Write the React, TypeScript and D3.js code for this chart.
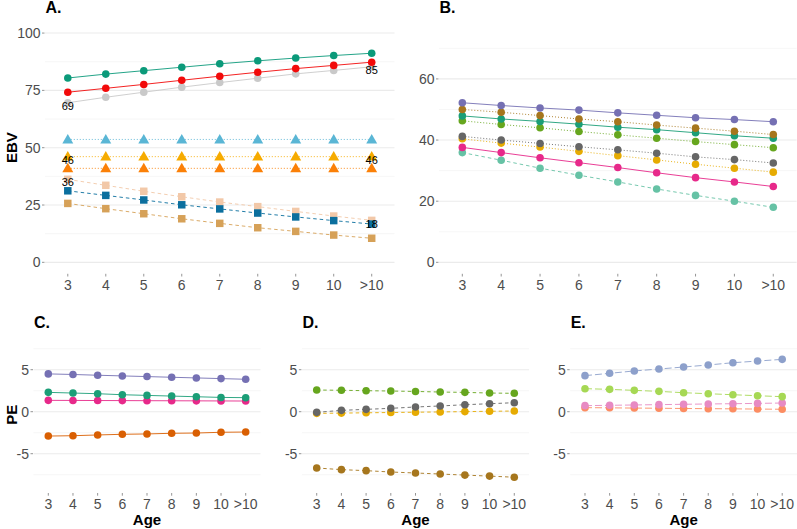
import React from "react";
import * as d3 from "d3";

// ---------- data ----------
const ages = ["3", "4", "5", "6", "7", "8", "9", "10", ">10"];

// Panel A (EBV)
const aTeal = [80.4, 82.1, 83.6, 85.1, 86.6, 87.9, 89.1, 90.2, 91.2];
const aRed = [74.2, 75.9, 77.6, 79.4, 81.2, 82.9, 84.5, 85.9, 87.3];
const aGrey = [69.6, 72.0, 74.2, 76.4, 78.4, 80.3, 82.2, 83.7, 85.3];
const aSkyTri = [53.6, 53.6, 53.6, 53.6, 53.6, 53.6, 53.6, 53.6, 53.6];
const aGoldTri = [46.1, 46.1, 46.1, 46.1, 46.1, 46.1, 46.1, 46.1, 46.1];
const aOrangeTri = [41.0, 41.0, 41.0, 41.0, 41.0, 41.0, 41.0, 41.0, 41.0];
const aPeachSq = [36.2, 33.6, 31.0, 28.6, 26.3, 24.3, 22.2, 20.2, 18.3];
const aBlueSq = [31.2, 29.2, 27.2, 25.1, 23.3, 21.5, 19.8, 18.2, 16.7];
const aTanSq = [25.7, 23.4, 21.2, 19.0, 17.0, 15.1, 13.5, 11.9, 10.5];

// Panel B (EBV)
const bPurple = [52.2, 51.3, 50.5, 49.8, 48.9, 48.1, 47.3, 46.7, 46.0];
const bBrown = [50.0, 49.1, 48.0, 46.9, 46.0, 44.9, 43.9, 42.9, 41.8];
const bTeal = [47.9, 46.9, 46.1, 45.2, 44.2, 43.4, 42.4, 41.4, 40.6];
const bGreen = [46.3, 45.1, 44.0, 42.8, 41.7, 40.6, 39.5, 38.5, 37.5];
const bGrey = [41.2, 40.0, 38.9, 37.8, 36.8, 35.7, 34.5, 33.6, 32.5];
const bYellow = [40.4, 39.0, 37.7, 36.3, 34.9, 33.5, 32.1, 30.8, 29.5];
const bPink = [37.6, 35.9, 34.2, 32.6, 31.0, 29.3, 27.7, 26.3, 24.8];
const bMint = [35.9, 33.4, 30.8, 28.5, 26.3, 24.0, 21.9, 20.0, 18.0];

// Panel C (PE)
const cPurple = [4.5, 4.43, 4.34, 4.26, 4.18, 4.1, 4.02, 3.94, 3.86];
const cTeal = [2.3, 2.22, 2.14, 2.02, 1.94, 1.86, 1.78, 1.7, 1.67];
const cPink = [1.35, 1.34, 1.33, 1.32, 1.31, 1.3, 1.29, 1.28, 1.27];
const cOrange = [-2.9, -2.86, -2.77, -2.69, -2.65, -2.57, -2.54, -2.45, -2.42];

// Panel D (PE)
const dGreen = [2.58, 2.55, 2.5, 2.46, 2.41, 2.34, 2.3, 2.22, 2.19];
const dGrey = [-0.08, 0.16, 0.28, 0.4, 0.56, 0.68, 0.83, 0.95, 1.07];
const dYellow = [-0.2, -0.17, -0.13, -0.1, -0.06, -0.03, 0.01, 0.05, 0.08];
const dBrown = [-6.7, -6.9, -7.02, -7.18, -7.3, -7.42, -7.55, -7.67, -7.8];

// Panel E (PE)
const eBlue = [4.29, 4.57, 4.85, 5.08, 5.32, 5.56, 5.83, 6.03, 6.23];
const eGreen = [2.74, 2.66, 2.54, 2.42, 2.26, 2.14, 2.02, 1.9, 1.79];
const ePink = [0.72, 0.76, 0.8, 0.84, 0.88, 0.92, 0.95, 0.99, 1.03];
const eOrange = [0.48, 0.46, 0.43, 0.41, 0.38, 0.36, 0.34, 0.31, 0.29];

// tick values
const ticksA = [0, 25, 50, 75, 100];
const minorA = [12.5, 37.5, 62.5, 87.5];
const ticksB = [0, 20, 40, 60];
const minorB = [10, 30, 50, 70];
const ticksPE = [-5, 0, 5];
const minorPE = [-7.5, -2.5, 2.5, 7.5];

// ---------- styles ----------
const FONT = "'Liberation Sans', Arial, Helvetica, sans-serif";
const DOT = "1 2";
const DASH = "3.5 3";
const LONG = "7 3";

type Shape = "circle" | "triangle" | "square";
type Series = { v: number[]; color: string; dash: string | null; shape: Shape };
type Label = { v: number[]; i: number };

type Panel = {
  key: string;
  title: string;
  x0: number;
  x1: number;
  yTop: number;
  yBot: number;
  domain: [number, number];
  ticks: number[];
  minor: number[];
  series: Series[];
  labels?: Label[];
  xTitle?: boolean;
};

const panels: Panel[] = [
  {
    key: "A",
    title: "A.",
    x0: 45,
    x1: 394.5,
    yTop: 21.6,
    yBot: 273.8,
    domain: [-5, 105],
    ticks: ticksA,
    minor: minorA,
    series: [
      { v: aTeal, color: "#0b9a7a", dash: null, shape: "circle" },
      { v: aGrey, color: "#c9c9c9", dash: null, shape: "circle" },
      { v: aRed, color: "#f20a0a", dash: null, shape: "circle" },
      { v: aSkyTri, color: "#5ab6d5", dash: DOT, shape: "triangle" },
      { v: aGoldTri, color: "#f6ab00", dash: DOT, shape: "triangle" },
      { v: aOrangeTri, color: "#fb8007", dash: DOT, shape: "triangle" },
      { v: aPeachSq, color: "#f2c8a8", dash: DASH, shape: "square" },
      { v: aBlueSq, color: "#0b6f9e", dash: DASH, shape: "square" },
      { v: aTanSq, color: "#d6a158", dash: DASH, shape: "square" },
    ],
    labels: [
      { v: aGrey, i: 0 },
      { v: aGrey, i: 8 },
      { v: aGoldTri, i: 0 },
      { v: aGoldTri, i: 8 },
      { v: aPeachSq, i: 0 },
      { v: aPeachSq, i: 8 },
    ],
  },
  {
    key: "B",
    title: "B.",
    x0: 439,
    x1: 796.6,
    yTop: 21.6,
    yBot: 273.8,
    domain: [-3.75, 78.75],
    ticks: ticksB,
    minor: minorB,
    series: [
      { v: bMint, color: "#66c2a5", dash: DASH, shape: "circle" },
      { v: bPink, color: "#e7298a", dash: null, shape: "circle" },
      { v: bYellow, color: "#e6ab02", dash: DOT, shape: "circle" },
      { v: bGrey, color: "#666666", dash: DOT, shape: "circle" },
      { v: bGreen, color: "#66a61e", dash: DOT, shape: "circle" },
      { v: bTeal, color: "#1b9e77", dash: null, shape: "circle" },
      { v: bBrown, color: "#a6761d", dash: DOT, shape: "circle" },
      { v: bPurple, color: "#7570b3", dash: null, shape: "circle" },
    ],
  },
  {
    key: "C",
    title: "C.",
    x0: 33.5,
    x1: 260.5,
    yTop: 336.6,
    yBot: 493,
    domain: [-9.68, 8.94],
    ticks: ticksPE,
    minor: minorPE,
    xTitle: true,
    series: [
      { v: cOrange, color: "#d95f02", dash: null, shape: "circle" },
      { v: cPink, color: "#e7298a", dash: null, shape: "circle" },
      { v: cTeal, color: "#1b9e77", dash: null, shape: "circle" },
      { v: cPurple, color: "#7570b3", dash: null, shape: "circle" },
    ],
  },
  {
    key: "D",
    title: "D.",
    x0: 301.9,
    x1: 529.1,
    yTop: 336.6,
    yBot: 493,
    domain: [-9.68, 8.94],
    ticks: ticksPE,
    minor: minorPE,
    xTitle: true,
    series: [
      { v: dBrown, color: "#a6761d", dash: DASH, shape: "circle" },
      { v: dYellow, color: "#e6ab02", dash: DASH, shape: "circle" },
      { v: dGrey, color: "#666666", dash: DASH, shape: "circle" },
      { v: dGreen, color: "#66a61e", dash: DASH, shape: "circle" },
    ],
  },
  {
    key: "E",
    title: "E.",
    x0: 570.2,
    x1: 797,
    yTop: 336.6,
    yBot: 493,
    domain: [-9.68, 8.94],
    ticks: ticksPE,
    minor: minorPE,
    xTitle: true,
    series: [
      { v: eOrange, color: "#fc8d62", dash: LONG, shape: "circle" },
      { v: ePink, color: "#e78ac3", dash: LONG, shape: "circle" },
      { v: eGreen, color: "#a6d854", dash: LONG, shape: "circle" },
      { v: eBlue, color: "#8da0cb", dash: LONG, shape: "circle" },
    ],
  },
];

const symbolPath = (shape: Shape) => {
  if (shape === "triangle") return d3.symbol().type(d3.symbolTriangle).size(52)()!;
  if (shape === "square") return d3.symbol().type(d3.symbolSquare).size(56)()!;
  return d3.symbol().type(d3.symbolCircle).size(45)()!;
};

function PanelView({ p }: { p: Panel }) {
  const x = d3.scalePoint<string>().domain(ages).range([p.x0, p.x1]).padding(0.6);
  const y = d3.scaleLinear().domain(p.domain).range([p.yBot, p.yTop]);
  const line = d3
    .line<number>()
    .x((_, i) => x(ages[i])!)
    .y((d) => y(d));
  const cx = (p.x0 + p.x1) / 2;
  return (
    <g>
      {p.minor.map((t) => (
        <line key={"mi" + t} x1={p.x0} x2={p.x1} y1={y(t)} y2={y(t)} stroke="#f2f2f2" strokeWidth={0.7} />
      ))}
      {p.ticks.map((t) => (
        <g key={"ma" + t}>
          <line x1={p.x0} x2={p.x1} y1={y(t)} y2={y(t)} stroke="#ebebeb" strokeWidth={1.1} />
          <line x1={p.x0 - 3} x2={p.x0 - 0.5} y1={y(t)} y2={y(t)} stroke="#4d4d4d" strokeWidth={0.6} />
          <text
            x={p.x0 - 4.5}
            y={y(t)}
            dy="0.35em"
            textAnchor="end"
            fontSize={14}
            fill="#4d4d4d"
            fontFamily={FONT}
          >
            {t}
          </text>
        </g>
      ))}
      {ages.map((a) => (
        <g key={"x" + a}>
          <line x1={x(a)} x2={x(a)} y1={p.yBot} y2={p.yBot + 2.7} stroke="#4d4d4d" strokeWidth={0.6} />
          <text
            x={x(a)}
            y={p.yBot + 11}
            dy="0.35em"
            textAnchor="middle"
            fontSize={14}
            fill="#4d4d4d"
            fontFamily={FONT}
          >
            {a}
          </text>
        </g>
      ))}
      {p.series.map((s, k) => (
        <path
          key={"l" + k}
          d={line(s.v)!}
          fill="none"
          stroke={s.color}
          strokeWidth={0.9}
          strokeDasharray={s.dash ?? undefined}
        />
      ))}
      {p.series.map((s, k) =>
        s.v.map((v, i) => (
          <path
            key={"p" + k + "_" + i}
            d={symbolPath(s.shape)}
            transform={`translate(${x(ages[i])},${y(v) + (s.shape === "triangle" ? 0.8 : 0)})`}
            fill={s.color}
          />
        ))
      )}
      {(p.labels ?? []).map((l, k) => (
        <text
          key={"lab" + k}
          x={x(ages[l.i])}
          y={y(l.v[l.i]) + 3.3}
          dy="0.35em"
          textAnchor="middle"
          fontSize={11}
          fill="#000"
          fontFamily={FONT}
        >
          {Math.floor(l.v[l.i])}
        </text>
      ))}
      <text x={p.x0 + 0.5} y={p.yTop - 8.6} fontSize={16} fontWeight="bold" fill="#000" fontFamily={FONT}>
        {p.title}
      </text>
      {p.xTitle && (
        <text x={cx} y={520} dy="0.35em" textAnchor="middle" fontSize={15} fontWeight="bold" fontFamily={FONT}>
          Age
        </text>
      )}
    </g>
  );
}

export default function App() {
  return (
    <svg
      width={797}
      height={529}
      viewBox="0 0 797 529"
      style={{ position: "absolute", left: 0, top: 0, background: "#fff" }}
    >
      <rect width={797} height={529} fill="#fff" />
      {panels.map((p) => (
        <PanelView key={p.key} p={p} />
      ))}
      <text
        transform="translate(12,147.7) rotate(-90)"
        dy="0.35em"
        textAnchor="middle"
        fontSize={15}
        fontWeight="bold"
        fontFamily={FONT}
      >
        EBV
      </text>
      <text
        transform="translate(12,414.8) rotate(-90)"
        dy="0.35em"
        textAnchor="middle"
        fontSize={15}
        fontWeight="bold"
        fontFamily={FONT}
      >
        PE
      </text>
    </svg>
  );
}
